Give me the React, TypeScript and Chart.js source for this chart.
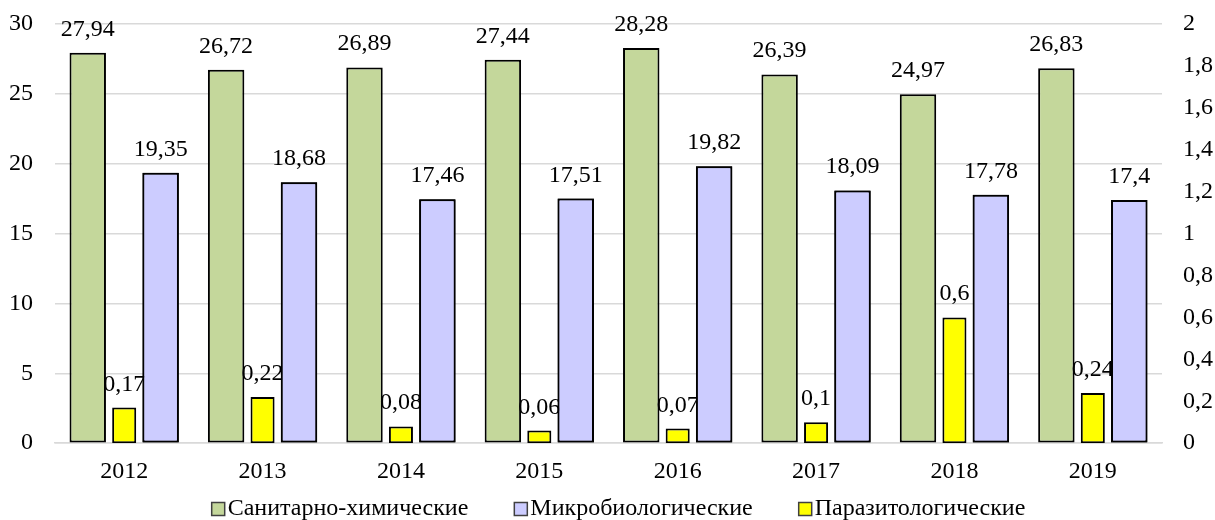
import React, { useEffect, useRef } from "react";
import { Chart, registerables } from "chart.js";

Chart.register(...registerables);

const years = ["2012", "2013", "2014", "2015", "2016", "2017", "2018", "2019"];
const sanChem = [27.94, 26.72, 26.89, 27.44, 28.28, 26.39, 24.97, 26.83];
const microBio = [19.35, 18.68, 17.46, 17.51, 19.82, 18.09, 17.78, 17.4];
const parasito = [0.17, 0.22, 0.08, 0.06, 0.07, 0.1, 0.6, 0.24];
const seriesNames = ["Санитарно-химические", "Микробиологические", "Паразитологические"];
const seriesColors = ["#c4d79b", "#ccccff", "#ffff00"];

const FONT = "'Liberation Serif', 'Times New Roman', serif";
const FS = 24;

const fmt = (v: number) => String(v).replace(".", ",");

function drawLabels(chart: any, i: number) {
  const ctx = chart.ctx;
  const ds = chart.data.datasets[i];
  const meta = chart.getDatasetMeta(i);
  ctx.save();
  ctx.font = `${FS}px ${FONT}`;
  ctx.fillStyle = "#000";
  ctx.textAlign = "center";
  ctx.textBaseline = "alphabetic";
  meta.data.forEach((el: any, j: number) => {
    ctx.fillText(fmt(ds.data[j]), el.x, el.y - 17);
  });
  ctx.restore();
}

const labelsPlugin = {
  id: "barLabels",
  afterDatasetsDraw(chart: any) {
    // yellow labels sit beneath the lavender bars, as in the reference
    drawLabels(chart, 1);
    const lav = chart.getDatasetMeta(2);
    const area = chart.chartArea;
    chart.ctx.save();
    chart.ctx.beginPath();
    chart.ctx.rect(area.left, area.top - 40, area.right - area.left, area.bottom - area.top + 42);
    chart.ctx.clip();
    lav.controller.draw();
    chart.ctx.restore();
    drawLabels(chart, 0);
    drawLabels(chart, 2);
  },
};

const legendPlugin = {
  id: "customLegend",
  afterDraw(chart: any) {
    const ctx = chart.ctx;
    ctx.save();
    ctx.font = `${FS}px ${FONT}`;
    const box = 13;
    const gapBoxText = 3;
    const gapItems = 46;
    const widths = seriesNames.map((n) => ctx.measureText(n).width);
    const total =
      widths.reduce((a, b) => a + b, 0) + seriesNames.length * (box + gapBoxText) + gapItems * (seriesNames.length - 1);
    const cx = (chart.chartArea.left + chart.chartArea.right) / 2 + 10;
    let x = cx - total / 2;
    const yc = 509;
    seriesNames.forEach((n, i) => {
      ctx.fillStyle = seriesColors[i];
      ctx.fillRect(x, yc - box / 2, box, box);
      ctx.strokeStyle = "#404040";
      ctx.lineWidth = 1.5;
      ctx.strokeRect(x, yc - box / 2, box, box);
      ctx.fillStyle = "#000";
      ctx.textAlign = "left";
      ctx.textBaseline = "middle";
      ctx.fillText(n, x + box + gapBoxText, yc);
      x += box + gapBoxText + widths[i] + gapItems;
    });
    ctx.restore();
  },
};

export default function App() {
  const ref = useRef<HTMLCanvasElement>(null);
  useEffect(() => {
    const common = {
      borderColor: "#000",
      borderWidth: 2,
      borderSkipped: false,
    };
    const chart = new Chart(ref.current!, {
      type: "bar",
      data: {
        labels: years,
        datasets: [
          {
            label: seriesNames[0],
            data: sanChem,
            backgroundColor: seriesColors[0],
            yAxisID: "y",
            barPercentage: 1.0,
            ...common,
          },
          {
            label: seriesNames[2],
            data: parasito,
            backgroundColor: seriesColors[2],
            yAxisID: "y1",
            barPercentage: 0.66,
            ...common,
          },
          {
            label: seriesNames[1],
            data: microBio,
            backgroundColor: seriesColors[1],
            yAxisID: "y",
            barPercentage: 1.0,
            ...common,
          },
        ],
      },
      options: {
        animation: false,
        responsive: true,
        maintainAspectRatio: false,
        categoryPercentage: 0.79,
        layout: { padding: { top: 24, bottom: 28, left: 0, right: 0 } },
        plugins: {
          tooltip: { enabled: false },
          legend: { display: false },
        } as any,
        scales: {
          x: {
            grid: { display: false },
            border: { display: true, color: "#d9d9d9", width: 1.5 },
            ticks: { font: { family: FONT, size: FS }, color: "#000", padding: 6 },
            afterFit: (s: any) => {
              s.paddingLeft = 0;
              s.paddingRight = 0;
            },
          },
          y: {
            position: "left",
            min: 0,
            max: 30,
            ticks: {
              stepSize: 5,
              font: { family: FONT, size: FS },
              color: "#000",
              padding: 22,
            },
            grid: { color: "#d9d9d9", lineWidth: 1.5, drawTicks: false },
            border: { display: false },
            afterFit: (s: any) => {
              s.width = 55;
              s.paddingTop = 0;
              s.paddingBottom = 0;
            },
          },
          y1: {
            position: "right",
            min: 0,
            max: 2,
            ticks: {
              stepSize: 0.2,
              font: { family: FONT, size: FS },
              color: "#000",
              padding: 21,
              callback: (v: any) => fmt(Math.round(Number(v) * 10) / 10),
            },
            grid: { display: false, drawTicks: false },
            border: { display: false },
            afterFit: (s: any) => {
              s.width = 53;
              s.paddingTop = 0;
              s.paddingBottom = 0;
            },
          },
        },
      },
      plugins: [labelsPlugin, legendPlugin],
    } as any);
    return () => chart.destroy();
  }, []);
  return (
    <div style={{ position: "absolute", left: 0, top: 0, width: 1215, height: 520 }}>
      <canvas ref={ref} />
    </div>
  );
}
